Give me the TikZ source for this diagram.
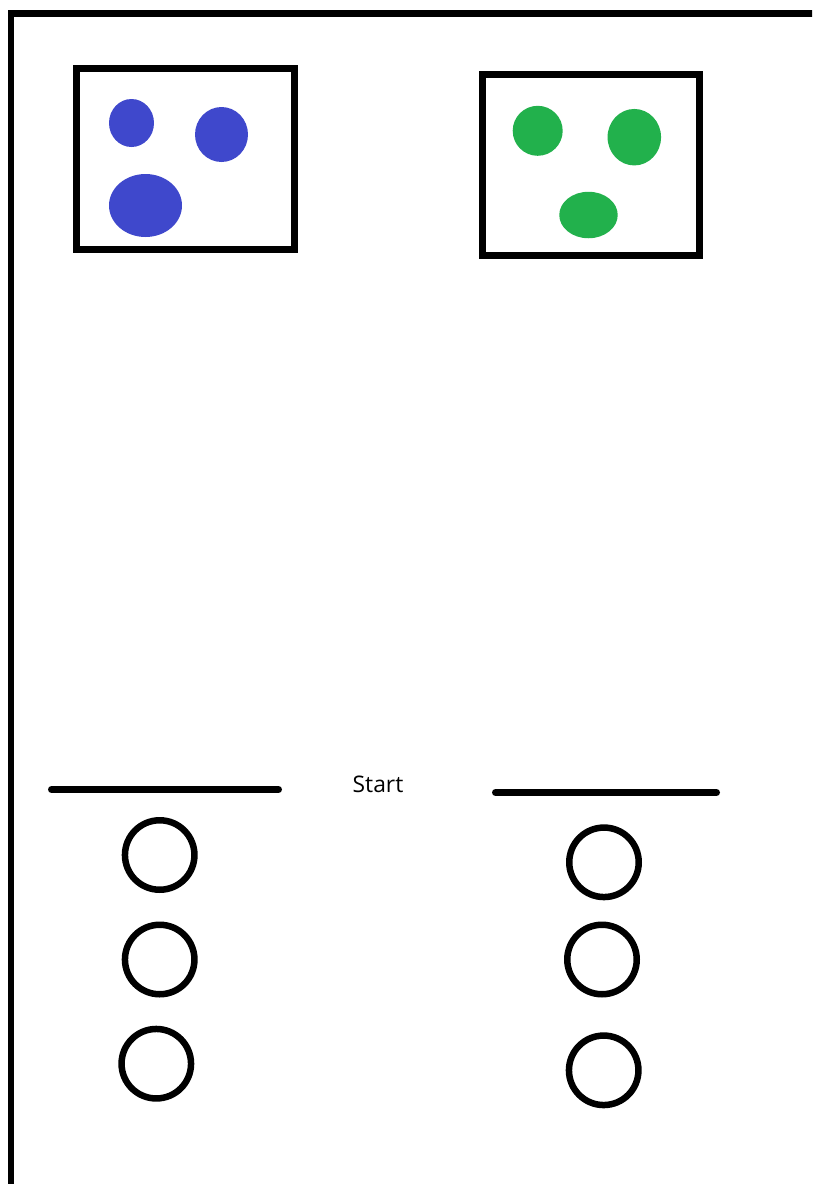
\documentclass[tikz,border=0pt]{standalone}
\usepackage{fontspec}
\setsansfont{Open Sans}
\usetikzlibrary{shapes.geometric}
\definecolor{ballblue}{HTML}{3F48CC}
\definecolor{ballgreen}{HTML}{22B14C}

\begin{document}
\begin{tikzpicture}[
    x=0.02cm, y=-0.02cm,
    every node/.style={font=\sffamily},
    tray/.style={draw, line width=0.14cm, inner sep=0pt, minimum width=4.35cm, minimum height=3.64cm},
    blueball/.style={ellipse, fill=ballblue, inner sep=0pt},
    greenball/.style={ellipse, fill=ballgreen, inner sep=0pt},
    slot/.style={circle, draw, line width=0.13cm, inner sep=0pt, minimum size=1.39cm},
    bar/.style={line width=0.14cm, line cap=round}
]
\clip (0,0) rectangle (812,1184);
\fill[white] (0,0) rectangle (812,1184);
% outer frame, cut off at the right and the bottom
\draw[line width=0.14cm] (11,1200) -- (11,13.5) -- (830,13.5);

% top trays
\node[tray] (blue tray) at (185.5,159) {};
\node[tray, minimum width=4.36cm] (green tray) at (591,165) {};

\node[blueball, minimum width=0.90cm, minimum height=0.96cm] (blue a) at (131.5,123) {};
\node[blueball, minimum width=1.06cm, minimum height=1.10cm] (blue b) at (221.5,134.5) {};
\node[blueball, minimum width=1.46cm, minimum height=1.26cm] (blue c) at (145.5,205.5) {};

\node[greenball, minimum width=1.00cm, minimum height=1.00cm] (green a) at (537.7,130.8) {};
\node[greenball, minimum width=1.07cm, minimum height=1.13cm] (green b) at (634.3,137.2) {};
\node[greenball, minimum width=1.17cm, minimum height=0.93cm] (green c) at (588.5,215) {};

% start lines
\coordinate (left bar a) at (51.5,789.5);
\coordinate (left bar b) at (278.5,789.5);
\coordinate (right bar a) at (495.5,792.5);
\coordinate (right bar b) at (716.5,792.5);
\draw[bar] (left bar a) -- (left bar b);
\draw[bar] (right bar a) -- (right bar b);
\node[font=\sffamily\fontsize{13}{15}\selectfont] (start) at (378,784) {Start};

% empty slots
\node[slot] (left slot 1) at (159.7,855) {};
\node[slot] (left slot 2) at (159.7,959.5) {};
\node[slot] (left slot 3) at (156.3,1063.7) {};
\node[slot] (right slot 1) at (604,862.3) {};
\node[slot] (right slot 2) at (602,959.5) {};
\node[slot] (right slot 3) at (603.7,1070.3) {};
\end{tikzpicture}
\end{document}
